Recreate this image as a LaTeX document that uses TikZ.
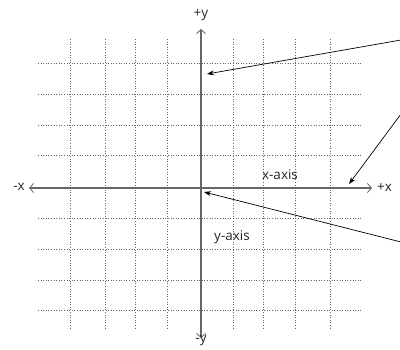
\documentclass[tikz,border=0pt]{standalone}
\usepackage{fontspec}
\setmainfont{Open Sans}
\usetikzlibrary{arrows.meta}
\begin{document}
\begin{tikzpicture}[x=1pt,y=-1pt,
  gridline/.style={black!60, dotted, line width=0.6pt},
  axisline/.style={black!60, line width=1.4pt, {Straight Barb[length=4pt,width=9pt,line width=0.8pt]}-{Straight Barb[length=4pt,width=9pt,line width=0.8pt]}},
  pointer/.style={black, line width=0.7pt, -{Stealth[length=7pt,width=5pt]}},
  lbl/.style={font=\fontsize{13.5}{15}\selectfont, inner sep=0pt, text=black!85}]
\useasboundingbox (0,0) rectangle (400,350);
% grid
\foreach \yy in {63,94,125,155,218,249,280,310}
  \draw[gridline] (38,\yy) -- (362,\yy);
\foreach \xx in {70,105,135,167,233,263,295,330}
  \draw[gridline] (\xx,39) -- (\xx,329);
% axes
\coordinate (xl) at (29,188);
\coordinate (xr) at (372,188);
\coordinate (yt) at (201,29);
\coordinate (yb) at (201,338);
\draw[axisline] (xl) -- (xr);
\draw[axisline] (yt) -- (yb);
\node[lbl] (py) at (201,15) {+y};
\node[lbl] (my) at (201,341) {-y};
\node[lbl, anchor=east] (mx) at (25,187) {-x};
\node[lbl, anchor=west] (px) at (377,187) {+x};
\node[lbl] (xaxis) at (280,175) {x-axis};
\node[lbl] (yaxis) at (232,237) {y-axis};
% pointers
\coordinate (s1) at (401,40);
\coordinate (t1) at (207,74);
\coordinate (s2) at (401,114);
\coordinate (t2) at (349,184);
\coordinate (s3) at (401,242);
\coordinate (t3) at (204,192);
\draw[pointer] (s1) -- (t1);
\draw[pointer] (s2) -- (t2);
\draw[pointer] (s3) -- (t3);
\end{tikzpicture}
\end{document}
